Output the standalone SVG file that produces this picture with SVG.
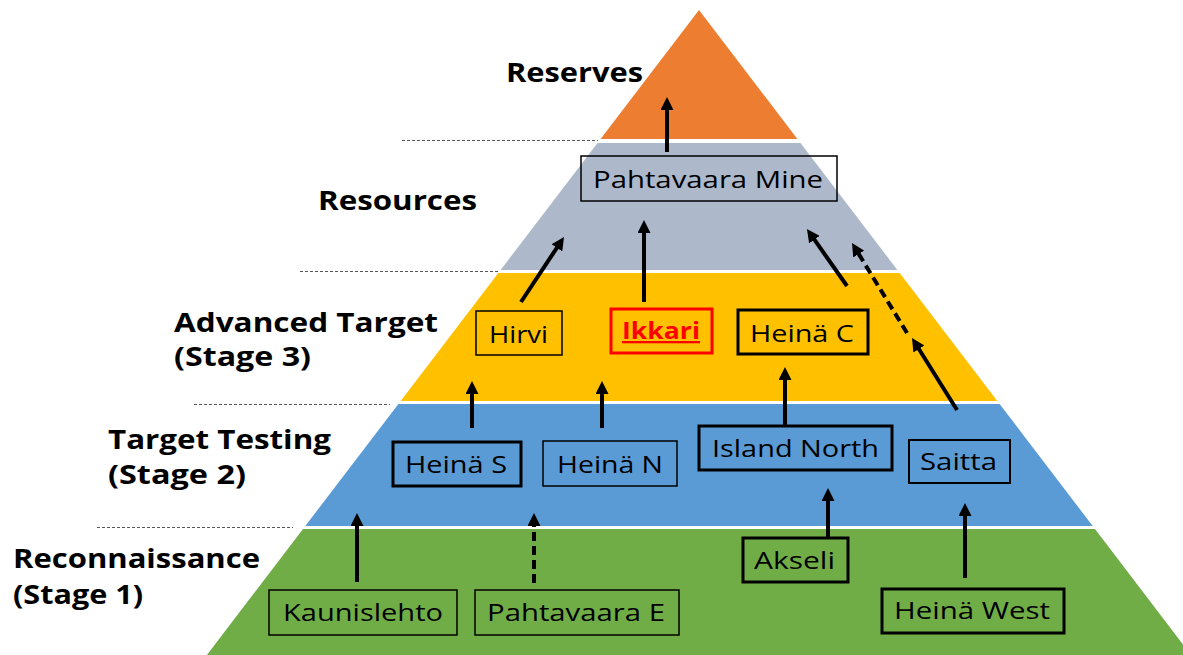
<svg xmlns="http://www.w3.org/2000/svg" width="1183" height="655" viewBox="0 0 1183 655">
<defs>
<style>
.lbl{font-family:"Open Sans","Liberation Sans",sans-serif;font-weight:700;font-size:27px;fill:#000}
.bt{font-family:"Open Sans","Liberation Sans",sans-serif;font-size:24px;fill:#000}
.box{fill:none;stroke:#000}
.thin{stroke-width:1.5}
.thick{stroke-width:3}
.guide{stroke:#555;stroke-width:1;stroke-dasharray:3 2;fill:none}
.arr{stroke:#000;stroke-width:4;fill:none;marker-end:url(#ah)}
.dash{stroke-dasharray:9 5}
</style>
<marker id="ah" markerUnits="userSpaceOnUse" viewBox="0 0 13 13" markerWidth="13" markerHeight="13" refX="3" refY="6.5" orient="auto">
<path d="M0,0 L13,6.5 L0,13 z" fill="#000"/>
</marker>
</defs>
<rect width="1183" height="655" fill="#fff"/>
<g id="pyramid">
<polygon points="699,10 797.4,139 600.6,139" fill="#ED7D31"/>
<polygon points="597.5,143 800.5,143 897.4,270 500.6,270" fill="#ADB9CA"/>
<polygon points="498.3,273 899.7,273 997.3,401 400.7,401" fill="#FFC000"/>
<polygon points="398.4,404 999.6,404 1092.7,526 305.3,526" fill="#5B9BD5"/>
<polygon points="303,529 1095,529 1191.1,655 206.9,655" fill="#70AD47"/>
</g>
<g id="guides">
<line class="guide" x1="402" y1="140.5" x2="598" y2="140.5"/>
<line class="guide" x1="300" y1="271.5" x2="498" y2="271.5"/>
<line class="guide" x1="194" y1="404.5" x2="390" y2="404.5"/>
<line class="guide" x1="97" y1="527.5" x2="293" y2="527.5"/>
</g>
<g id="labels">
<text class="lbl" x="506" y="82" textLength="137" lengthAdjust="spacingAndGlyphs">Reserves</text>
<text class="lbl" x="318" y="210" textLength="159" lengthAdjust="spacingAndGlyphs">Resources</text>
<text class="lbl" x="174" y="332" textLength="264" lengthAdjust="spacingAndGlyphs">Advanced Target</text>
<text class="lbl" x="174" y="366" textLength="137" lengthAdjust="spacingAndGlyphs">(Stage 3)</text>
<text class="lbl" x="108" y="449" textLength="223" lengthAdjust="spacingAndGlyphs">Target Testing</text>
<text class="lbl" x="108" y="484" textLength="138" lengthAdjust="spacingAndGlyphs">(Stage 2)</text>
<text class="lbl" x="13" y="568" textLength="247" lengthAdjust="spacingAndGlyphs">Reconnaissance</text>
<text class="lbl" x="13" y="604" textLength="130" lengthAdjust="spacingAndGlyphs">(Stage 1)</text>
</g>
<g id="connectors">
<line class="arr" x1="667" y1="152" x2="667" y2="107"/>
<line class="arr" x1="521" y1="302" x2="558.5" y2="245.3"/>
<line class="arr" x1="644" y1="302" x2="644" y2="230"/>
<line class="arr" x1="847" y1="286" x2="812.7" y2="237.2"/>
<line class="arr" x1="957" y1="410" x2="917.3" y2="346.5"/>
<line class="arr dash" x1="907" y1="333" x2="857.2" y2="251.5"/>
<line class="arr" x1="472" y1="428" x2="472" y2="391"/>
<line class="arr" x1="602" y1="428" x2="602" y2="391"/>
<line class="arr" x1="785" y1="425" x2="785" y2="377"/>
<line class="arr" x1="357" y1="582" x2="357" y2="523"/>
<line class="arr dash" x1="534" y1="583" x2="534" y2="523"/>
<line class="arr" x1="828" y1="537" x2="828" y2="498"/>
<line class="arr" x1="965" y1="578" x2="965" y2="513"/>
</g>
<g id="n-pahtavaara-mine">
<rect class="box thin" x="581" y="156" width="256" height="45"/>
<text class="bt" x="593" y="188" textLength="230" lengthAdjust="spacingAndGlyphs">Pahtavaara Mine</text>
</g>
<g id="n-hirvi">
<rect class="box thin" x="476" y="311" width="86" height="44"/>
<text class="bt" x="489" y="343" textLength="59" lengthAdjust="spacingAndGlyphs">Hirvi</text>
</g>
<g id="n-ikkari">
<rect x="611" y="309" width="101" height="44" fill="none" stroke="#FF0000" stroke-width="3"/>
<text x="622" y="339" textLength="78" lengthAdjust="spacingAndGlyphs" font-family="Open Sans, Liberation Sans, sans-serif" font-weight="700" font-size="23" fill="#FF0000" text-decoration="underline">Ikkari</text>
</g>
<g id="n-heina-c">
<rect class="box thick" x="738" y="310" width="130" height="44"/>
<text class="bt" x="750" y="342" textLength="104" lengthAdjust="spacingAndGlyphs">Heinä C</text>
</g>
<g id="n-heina-s">
<rect class="box thick" x="393" y="442" width="128" height="44"/>
<text class="bt" x="405" y="473" textLength="102" lengthAdjust="spacingAndGlyphs">Heinä S</text>
</g>
<g id="n-heina-n">
<rect class="box thin" x="543" y="441" width="134" height="45"/>
<text class="bt" x="557" y="473" textLength="106" lengthAdjust="spacingAndGlyphs">Heinä N</text>
</g>
<g id="n-island-north">
<rect class="box thick" x="699" y="426" width="193" height="44"/>
<text class="bt" x="712" y="457" textLength="167" lengthAdjust="spacingAndGlyphs">Island North</text>
</g>
<g id="n-saitta">
<rect class="box" stroke-width="2" x="909" y="440" width="101" height="43"/>
<text class="bt" x="920" y="470" textLength="77" lengthAdjust="spacingAndGlyphs">Saitta</text>
</g>
<g id="n-kaunislehto">
<rect class="box thin" x="269" y="590" width="188" height="45"/>
<text class="bt" x="283" y="621" textLength="160" lengthAdjust="spacingAndGlyphs">Kaunislehto</text>
</g>
<g id="n-pahtavaara-e">
<rect class="box thin" x="475" y="590" width="204" height="45"/>
<text class="bt" x="487" y="621" textLength="178" lengthAdjust="spacingAndGlyphs">Pahtavaara E</text>
</g>
<g id="n-akseli">
<rect class="box thick" x="743" y="538" width="105" height="44"/>
<text class="bt" x="754" y="569" textLength="81" lengthAdjust="spacingAndGlyphs">Akseli</text>
</g>
<g id="n-heina-west">
<rect class="box thick" x="882" y="589" width="182" height="44"/>
<text class="bt" x="894" y="619" textLength="156" lengthAdjust="spacingAndGlyphs">Heinä West</text>
</g>
</svg>
